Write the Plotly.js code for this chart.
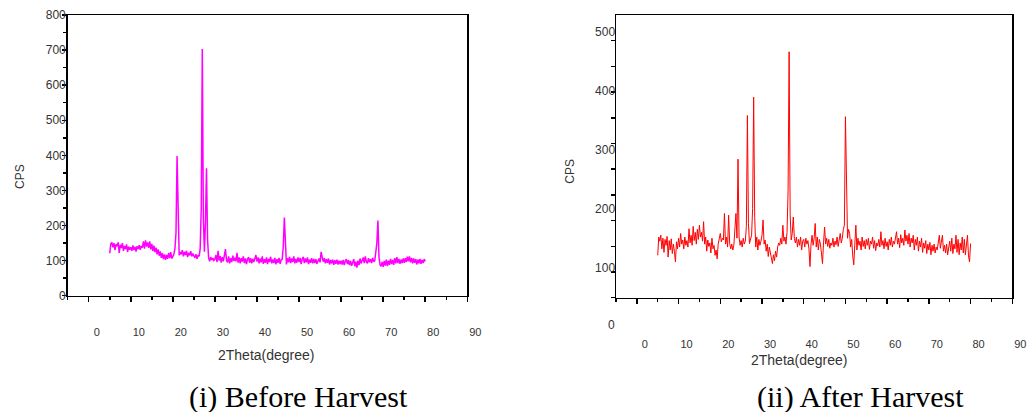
<!DOCTYPE html>
<html><head><meta charset="utf-8">
<script src="https://cdn.plot.ly/plotly-3.0.1.min.js"></script>
<style>html,body{margin:0;padding:0;background:#fff}#chart{width:1029px;height:412px}</style>
</head><body><div id="chart"></div>
<script>
// Scan grid of the diffractometer (2θ, degrees)
const scanStart = 5, scanStep = 0.25;

// (i) Before Harvest – CPS, 5.00° … 80.00°
const beforeCps = [
121,148,152,138,150,130,147,141,152,122,145,136,150,128,142,133,146,125,140,131,
138,128,143,130,139,126,141,133,144,131,142,137,155,134,158,140,152,136,155,132,
148,127,143,124,137,118,132,114,126,108,121,104,118,102,116,105,122,107,124,106,
112,118,135,180,398,190,115,124,118,130,112,125,116,128,110,122,115,127,112,120,
114,108,118,105,116,112,135,250,703,220,125,210,363,160,108,98,110,102,107,100,
104,116,96,128,100,113,94,110,98,118,133,101,95,112,92,107,96,114,99,108,
98,122,94,109,92,107,97,112,93,106,90,104,110,94,107,92,105,96,110,116,
97,109,92,106,95,112,91,104,94,109,90,105,96,111,92,103,93,108,89,104,
94,108,91,102,104,140,223,120,89,107,95,111,93,106,96,112,92,105,94,109,
96,108,90,104,111,93,106,95,109,90,103,94,107,92,105,93,104,91,102,106,
95,125,110,97,107,92,104,94,106,89,102,92,103,88,101,91,103,89,100,90,
100,89,102,87,99,104,90,101,87,99,85,98,104,84,97,80,100,87,106,92,
102,109,93,112,97,92,107,95,104,93,108,97,100,120,150,214,110,88,84,96,
82,99,86,103,84,100,88,105,90,102,88,107,92,110,93,105,91,103,93,106,
94,107,96,111,98,112,95,108,92,106,94,104,89,103,92,105,91,102,93,104,98
];

// (ii) After Harvest – CPS, 5.00° … 80.00°
const afterCps = [
121,152,145,155,132,150,126,148,138,153,118,146,130,149,124,140,128,110,144,132,
150,135,158,140,147,132,152,138,146,135,166,142,155,138,170,146,160,140,165,148,
172,152,160,145,178,140,152,128,147,136,142,125,150,132,138,121,130,115,140,152,
158,144,150,147,192,140,152,135,189,141,132,140,130,138,160,192,150,284,152,138,
146,135,150,140,145,170,358,175,141,148,155,200,389,185,135,152,130,148,138,145,
155,181,140,147,128,140,119,135,125,116,107,122,112,128,118,135,142,138,150,140,
172,145,152,140,160,230,466,190,147,158,186,150,142,152,135,148,138,152,130,145,
148,135,150,140,146,132,102,140,155,138,150,175,135,152,130,148,140,125,107,142,
169,140,150,136,148,133,142,138,150,135,145,139,152,136,148,158,142,150,165,172,
356,210,150,165,158,135,148,120,105,140,172,130,150,138,145,130,152,136,146,132,
148,138,150,131,145,140,152,133,146,129,142,137,148,135,161,138,146,132,150,136,
144,130,148,138,152,135,145,140,155,161,140,150,134,156,142,150,138,164,145,155,
140,158,135,150,142,155,130,148,138,152,128,145,135,150,126,142,133,146,124,140,
130,143,122,138,128,140,125,135,130,142,155,133,148,155,128,138,125,140,122,136,
145,128,150,124,140,132,155,126,148,122,142,130,152,125,148,122,140,155,120,110,141
];

// Axis labels / texts
const afterYTickVals = [100, 200, 300, 400, 500];
const yTitle = 'CPS';
const xTitle = '2Theta(degree)';
const captions = ['(i) Before Harvest', '(ii) After Harvest'];

const twoThetaBefore = beforeCps.map((_, i) => scanStart + i * scanStep);
const twoThetaAfter = afterCps.map((_, i) => scanStart + i * scanStep);

const W = 1029, H = 412;
const px = v => v / W;
const py = v => 1 - v / H;

const xTickFont = {family: 'Liberation Sans, Arial, sans-serif', size: 11, color: '#333'};
const yTickFont = {family: 'Liberation Sans, Arial, sans-serif', size: 12, color: '#333'};
const titleFont = {family: 'Liberation Sans, Arial, sans-serif', size: 14, color: '#333'};

const traces = [
  {x: twoThetaBefore, y: beforeCps, type: 'scatter', mode: 'lines',
   line: {color: '#ff00ff', width: 1.5}, xaxis: 'x', yaxis: 'y', hoverinfo: 'skip'},
  {x: twoThetaAfter, y: afterCps, type: 'scatter', mode: 'lines',
   line: {color: '#ff0000', width: 1}, xaxis: 'x2', yaxis: 'y2', hoverinfo: 'skip'}
];

function xAxis(domain, anchor, standoff) {
  return {
    domain: domain, anchor: anchor, range: [-5, 90],
    tickmode: 'linear', tick0: 0, dtick: 10,
    ticks: 'outside', ticklen: 5, tickwidth: 1.5, tickcolor: '#000',
    minor: {tickmode: 'linear', tick0: 0, dtick: 5, ticks: 'outside', ticklen: 3, tickwidth: 1.5, tickcolor: '#000', showgrid: false},
    showline: true, linecolor: '#000', linewidth: 1.5, mirror: true,
    showgrid: false, zeroline: false, tickfont: xTickFont,
    ticklabelshift: 8, ticklabelstandoff: standoff, fixedrange: true
  };
}

const layout = {
  width: W, height: H,
  margin: {l: 0, r: 0, t: 0, b: 0},
  paper_bgcolor: '#fff', plot_bgcolor: '#fff',
  showlegend: false,
  xaxis: xAxis([px(67.7), px(467.3)], 'y', 21),
  xaxis2: xAxis([px(616), px(1012.3)], 'y2', 31),
  yaxis: {
    domain: [py(295.7), py(15)], anchor: 'x', range: [0, 800],
    tickmode: 'linear', tick0: 0, dtick: 100,
    ticks: 'outside', ticklen: 4, tickwidth: 1.5, tickcolor: '#000',
    minor: {tickmode: 'linear', tick0: 0, dtick: 50, ticks: 'outside', ticklen: 3, tickwidth: 1.5, tickcolor: '#000', showgrid: false},
    showline: true, linecolor: '#000', linewidth: 1.5, mirror: true,
    showgrid: false, zeroline: false, tickfont: yTickFont,
    ticklabelstandoff: -6, fixedrange: true
  },
  yaxis2: {
    domain: [py(297.7), py(15)], anchor: 'x2', range: [49.2, 528.3],
    tickmode: 'array', tickvals: afterYTickVals,
    ticks: '',
    minor: {tickmode: 'linear', tick0: 49.2, dtick: 43.56, ticks: 'outside', ticklen: 4, tickwidth: 1.5, tickcolor: '#000', showgrid: false},
    showline: true, linecolor: '#000', linewidth: 1.5, mirror: true,
    showgrid: false, zeroline: false, tickfont: yTickFont,
    ticklabelstandoff: -3, fixedrange: true
  },
  annotations: [
    {text: yTitle, xref: 'paper', yref: 'paper', x: px(20), y: py(177), textangle: -90,
     showarrow: false, xanchor: 'center', yanchor: 'middle', font: {family: titleFont.family, size: 12, color: '#333'}},
    {text: yTitle, xref: 'paper', yref: 'paper', x: px(570), y: py(171.7), textangle: -90,
     showarrow: false, xanchor: 'center', yanchor: 'middle', font: {family: titleFont.family, size: 12, color: '#333'}},
    {text: xTitle, xref: 'paper', yref: 'paper', x: px(266), y: py(355),
     showarrow: false, xanchor: 'center', yanchor: 'middle', font: titleFont},
    {text: xTitle, xref: 'paper', yref: 'paper', x: px(799), y: py(360),
     showarrow: false, xanchor: 'center', yanchor: 'middle', font: titleFont},
    {text: '0', xref: 'paper', yref: 'paper', x: px(611), y: py(325),
     showarrow: false, xanchor: 'center', yanchor: 'middle', font: yTickFont},
    {text: captions[0], xref: 'paper', yref: 'paper', x: px(298), y: py(397),
     showarrow: false, xanchor: 'center', yanchor: 'middle',
     font: {family: 'Liberation Serif, Times New Roman, serif', size: 30, color: '#000'}},
    {text: captions[1], xref: 'paper', yref: 'paper', x: px(860), y: py(397),
     showarrow: false, xanchor: 'center', yanchor: 'middle',
     font: {family: 'Liberation Serif, Times New Roman, serif', size: 30, color: '#000'}}
  ]
};

Plotly.newPlot('chart', traces, layout, {staticPlot: true, displayModeBar: false});
</script>
</body></html>
